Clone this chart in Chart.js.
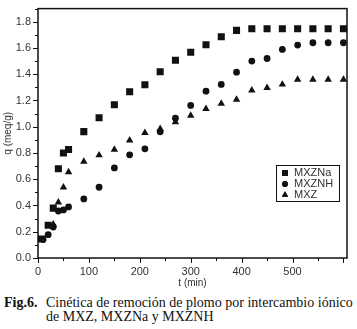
<!DOCTYPE html>
<html>
<head>
<meta charset="utf-8">
<script src="https://cdn.jsdelivr.net/npm/chart.js@4.4.0/dist/chart.umd.min.js"></script>
<style>
  html, body { margin: 0; padding: 0; background: #fff; }
  #wrap { position: relative; width: 357px; height: 329px; overflow: hidden; }
  #c { position: absolute; left: 0; top: 0; }
  .cap { position: absolute; font-family: "Liberation Serif", "Times New Roman", serif; font-size: 14px; line-height: 14px; color: #111; white-space: nowrap; }
</style>
</head>
<body>
<div id="wrap">
  <canvas id="c" width="357" height="290"></canvas>
  <div class="cap" style="left:4px; top:296px;"><b>Fig.6.</b></div>
  <div class="cap" style="left:46px; top:296px;">Cinética de remoción de plomo por intercambio iónico</div>
  <div class="cap" style="left:46px; top:310px;">de MXZ, MXZNa y MXZNH</div>
</div>
<script>
// ---- data ----
const seriesNames = ["MXZNa", "MXZNH", "MXZ"];
const tMXZNa = [7, 20, 30, 40, 50, 60, 90, 120, 150, 180, 210, 240, 270, 300, 330, 360, 390, 420, 450, 480, 510, 540, 570, 600];
const qMXZNa = [0.145, 0.25, 0.38, 0.68, 0.80, 0.826, 0.963, 1.068, 1.167, 1.266, 1.32, 1.419, 1.507, 1.568, 1.625, 1.686, 1.734, 1.747, 1.747, 1.747, 1.747, 1.747, 1.747, 1.747];
const tMXZNH = [10, 20, 30, 40, 50, 60, 90, 120, 150, 180, 210, 240, 270, 300, 330, 360, 390, 420, 450, 480, 510, 540, 570, 600];
const qMXZNH = [0.14, 0.178, 0.236, 0.358, 0.366, 0.389, 0.45, 0.539, 0.686, 0.786, 0.832, 0.961, 1.065, 1.162, 1.271, 1.322, 1.416, 1.50, 1.52, 1.589, 1.622, 1.64, 1.64, 1.64];
const tMXZ = [30, 40, 50, 60, 90, 120, 150, 180, 210, 240, 270, 300, 330, 360, 390, 420, 450, 480, 510, 540, 570, 600];
const qMXZ = [0.256, 0.424, 0.539, 0.655, 0.735, 0.783, 0.826, 0.897, 0.953, 0.984, 1.036, 1.085, 1.136, 1.177, 1.207, 1.278, 1.296, 1.322, 1.36, 1.36, 1.36, 1.36];
const xTickLabels = ["0", "100", "200", "300", "400", "500"];
const yTickLabels = ["0.0", "0.2", "0.4", "0.6", "0.8", "1.0", "1.2", "1.4", "1.6", "1.8"];
const xTitle = "t (min)";
const yTitle = "q (meq/g)";

function pts(t, q) { return t.map((v, i) => ({ x: v, y: q[i] })); }

const styles = [
  { pointStyle: 'rect', radius: 5 },
  { pointStyle: 'circle', radius: 3.4 },
  { pointStyle: 'triangle', radius: 4.3 }
];
const dataSets = [pts(tMXZNa, qMXZNa), pts(tMXZNH, qMXZNH), pts(tMXZ, qMXZ)];

const ink = '#111';
const txt = '#333';

const frameAndTicks = {
  id: 'frameAndTicks',
  afterDraw(chart) {
    const ctx = chart.ctx;
    const a = chart.chartArea;
    const xs = chart.scales.x, ys = chart.scales.y;
    ctx.save();
    ctx.strokeStyle = ink;
    ctx.lineWidth = 1;
    xs.ticks.forEach(t => {
      const px = Math.round(xs.getPixelForValue(t.value)) + 0.5;
      const major = Math.round(t.value) % 100 === 0;
      ctx.beginPath();
      ctx.moveTo(px, a.bottom);
      ctx.lineTo(px, a.bottom + (major ? 5 : 3));
      ctx.stroke();
    });
    ys.ticks.forEach(t => {
      const py = Math.round(ys.getPixelForValue(t.value)) + 0.5;
      const major = Math.round(t.value * 10) % 2 === 0;
      ctx.beginPath();
      ctx.moveTo(a.left, py);
      ctx.lineTo(a.left - (major ? 5 : 3), py);
      ctx.stroke();
    });
    ctx.lineWidth = 1.5;
    ctx.strokeRect(a.left, a.top, a.right - a.left, a.bottom - a.top);
    // legend box
    const lx = 276, ly = 165, lw = 63, lh = 36;
    ctx.lineWidth = 1;
    ctx.strokeRect(lx + 0.5, ly + 0.5, lw, lh);
    ctx.font = '11px "Liberation Sans", Arial, sans-serif';
    ctx.textBaseline = 'middle';
    ctx.textAlign = 'left';
    seriesNames.forEach((n, i) => {
      const cy = ly + 8 + i * 11;
      ctx.fillStyle = ink;
      Chart.helpers.drawPoint(ctx, { pointStyle: styles[i].pointStyle, radius: styles[i].radius * 0.85, rotation: 0, borderWidth: 0 }, lx + 9, cy);
      ctx.fill();
      ctx.fillStyle = txt;
      ctx.fillText(n, lx + 18, cy);
    });
    ctx.restore();
  }
};

new Chart(document.getElementById('c'), {
  type: 'scatter',
  data: {
    datasets: dataSets.map((d, i) => ({
      label: seriesNames[i],
      data: d,
      pointStyle: styles[i].pointStyle,
      pointRadius: styles[i].radius,
      pointHoverRadius: styles[i].radius,
      backgroundColor: ink,
      borderColor: ink,
      borderWidth: 0,
      showLine: false
    }))
  },
  options: {
    responsive: false,
    animation: false,
    devicePixelRatio: 1,
    layout: { padding: { top: 8, right: 10, left: 0, bottom: 0 } },
    plugins: { legend: { display: false }, tooltip: { enabled: false } },
    scales: {
      x: {
        type: 'linear', min: 0, max: 607,
        afterFit(s) { s.height = 32; },
        grid: { display: false, drawTicks: true, tickLength: 5 },
        border: { display: false },
        ticks: {
          stepSize: 50, includeBounds: false, autoSkip: false, maxRotation: 0, padding: 2,
          color: txt, font: { family: '"Liberation Sans", Arial, sans-serif', size: 11 },
          callback(v) { const i = xTickLabels.indexOf(String(Math.round(v))); return (Math.round(v) % 100 === 0 && i >= 0) ? xTickLabels[i] : ''; }
        },
        title: { display: true, text: xTitle, color: txt, font: { family: '"Liberation Sans", Arial, sans-serif', size: 10 }, padding: { top: 0, bottom: 1 } }
      },
      y: {
        type: 'linear', min: 0, max: 1.9,
        afterFit(s) { s.width = 38; },
        grid: { display: false, drawTicks: true, tickLength: 5 },
        border: { display: false },
        ticks: {
          stepSize: 0.1, includeBounds: false, autoSkip: false, padding: 2,
          color: txt, font: { family: '"Liberation Sans", Arial, sans-serif', size: 11 },
          callback(v) { const k = Math.round(v * 10); return k % 2 === 0 ? (yTickLabels[k / 2] || '') : ''; }
        },
        title: { display: true, text: yTitle, color: txt, font: { family: '"Liberation Sans", Arial, sans-serif', size: 10 }, padding: { top: 2, bottom: 0 } }
      }
    }
  },
  plugins: [frameAndTicks]
});
</script>
</body>
</html>
